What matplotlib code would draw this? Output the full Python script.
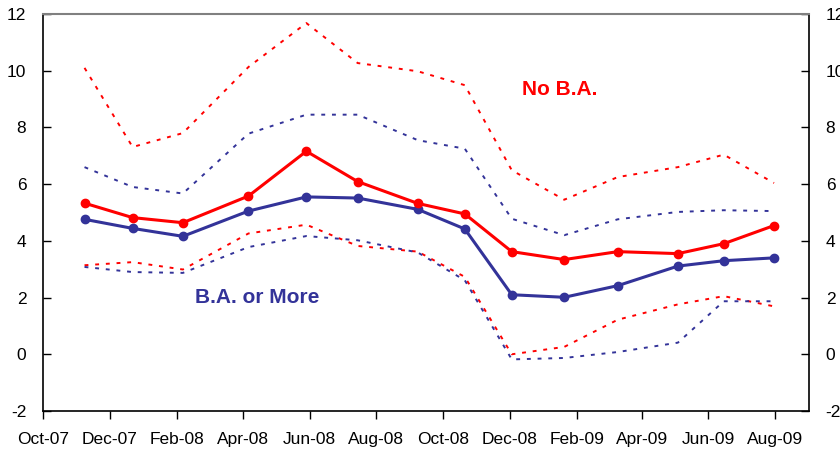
import matplotlib
matplotlib.use("Agg")
import matplotlib.pyplot as plt
import datetime as dt

plt.rcParams['font.family'] = ['Liberation Sans', 'DejaVu Sans']

dates = ['2007-11-08', '2007-12-22', '2008-02-06', '2008-04-06', '2008-05-29',
         '2008-07-15', '2008-09-08', '2008-10-21', '2008-12-03', '2009-01-20',
         '2009-03-10', '2009-05-04', '2009-06-15', '2009-07-31']

no_ba = [5.33, 4.82, 4.64, 5.58, 7.16, 6.09, 5.32, 4.95, 3.62, 3.34, 3.62, 3.55, 3.90, 4.54]
no_ba_upper = [10.10, 7.31, 7.80, 10.13, 11.68, 10.27, 9.98, 9.49, 6.49, 5.45, 6.25, 6.60, 7.04, 6.04]
no_ba_lower = [3.14, 3.25, 2.99, 4.26, 4.57, 3.82, 3.62, 2.73, 0.00, 0.26, 1.22, 1.76, 2.05, 1.69]

ba = [4.76, 4.44, 4.16, 5.05, 5.55, 5.51, 5.11, 4.42, 2.10, 2.01, 2.42, 3.11, 3.30, 3.40]
ba_upper = [6.60, 5.90, 5.67, 7.78, 8.45, 8.45, 7.55, 7.25, 4.78, 4.20, 4.76, 5.02, 5.08, 5.05]
ba_lower = [3.08, 2.90, 2.87, 3.78, 4.17, 4.02, 3.59, 2.61, -0.18, -0.13, 0.08, 0.41, 1.87, 1.87]

tick_dates = ['2007-10-01', '2007-12-01', '2008-02-01', '2008-04-01', '2008-06-01',
              '2008-08-01', '2008-10-01', '2008-12-01', '2009-02-01', '2009-04-01',
              '2009-06-01', '2009-08-01']
tick_labels = ['Oct-07', 'Dec-07', 'Feb-08', 'Apr-08', 'Jun-08', 'Aug-08', 'Oct-08',
               'Dec-08', 'Feb-09', 'Apr-09', 'Jun-09', 'Aug-09']
y_ticks = [-2, 0, 2, 4, 6, 8, 10, 12]

RED = '#FF0000'
BLUE = '#333399'

x = [dt.datetime.strptime(d, '%Y-%m-%d') for d in dates]
xt = [dt.datetime.strptime(d, '%Y-%m-%d') for d in tick_dates]

fig = plt.figure(figsize=(8.4, 4.5), dpi=100)
ax = fig.add_axes([43/840, 1-411/450, 766/840, 397/450])

dot = (0, (2, 3.5))
ax.plot(x, no_ba_upper, color=RED, lw=1.4, linestyle=dot)
ax.plot(x, no_ba_lower, color=RED, lw=1.4, linestyle=dot)
ax.plot(x, ba_upper, color=BLUE, lw=1.4, linestyle=dot)
ax.plot(x, ba_lower, color=BLUE, lw=1.4, linestyle=dot)
ax.plot(x, ba, color=BLUE, lw=2.2, marker='o', ms=6)
ax.plot(x, no_ba, color=RED, lw=2.2, marker='o', ms=6)

ax.set_xlim(dt.datetime(2007, 10, 1), dt.datetime(2009, 9, 1))
ax.set_ylim(-2, 12)
ax.set_xticks(xt)
ax.set_xticklabels(tick_labels)
ax.set_yticks(y_ticks)
ax.set_yticklabels([str(v) for v in y_ticks])

ax.tick_params(axis='x', direction='out', length=6, width=1, pad=9, labelsize=12.5)
ax.tick_params(axis='y', direction='in', length=6, width=1, pad=12, labelsize=12.5,
               left=True, right=True, labelleft=True, labelright=True)

for s in ['left', 'right', 'bottom']:
    ax.spines[s].set_color('black')
    ax.spines[s].set_linewidth(1.2)
ax.spines['top'].set_color('#808080')
ax.spines['top'].set_linewidth(1.5)

ax.text(0.675, 0.81, 'No B.A.', transform=ax.transAxes, color=RED,
        fontsize=15, fontweight='bold', ha='center', va='center')
ax.text(0.279, 0.287, 'B.A. or More', transform=ax.transAxes, color=BLUE,
        fontsize=15, fontweight='bold', ha='center', va='center')

fig.savefig('out.png', dpi=100)
